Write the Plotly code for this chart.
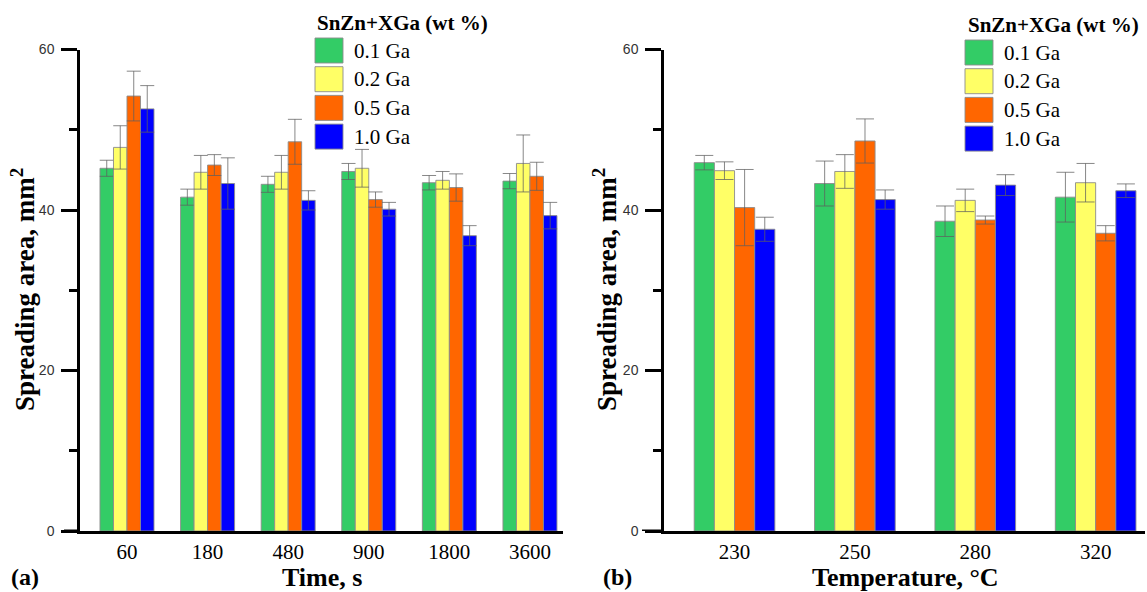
import plotly.graph_objects as go

# ---------------- data ----------------
series_names = ["0.1 Ga", "0.2 Ga", "0.5 Ga", "1.0 Ga"]
series_colors = ["#33CC66", "#FFFF66", "#FF6600", "#0000FF"]
legend_title = "SnZn+XGa (wt %)"

# (a) spreading area vs time
times = ["60", "180", "480", "900", "1800", "3600"]
time_ga01 = [45.2, 41.6, 43.2, 44.8, 43.4, 43.6]
time_ga02 = [47.8, 44.7, 44.7, 45.2, 43.7, 45.8]
time_ga05 = [54.2, 45.6, 48.5, 41.3, 42.8, 44.2]
time_ga10 = [52.6, 43.3, 41.2, 40.1, 36.8, 39.3]
time_err01 = [1.0, 1.0, 1.0, 1.0, 0.9, 0.95]
time_err02 = [2.7, 2.1, 2.1, 2.35, 1.1, 3.55]
time_err05 = [3.1, 1.3, 2.8, 0.95, 1.7, 1.75]
time_err10 = [2.9, 3.2, 1.2, 0.85, 1.25, 1.65]

# (b) spreading area vs temperature
temps = ["230", "250", "280", "320"]
temp_ga01 = [45.9, 43.3, 38.6, 41.6]
temp_ga02 = [44.9, 44.8, 41.2, 43.4]
temp_ga05 = [40.3, 48.6, 38.75, 37.1]
temp_ga10 = [37.6, 41.3, 43.1, 42.4]
temp_err01 = [0.9, 2.8, 1.9, 3.1]
temp_err02 = [1.1, 2.1, 1.4, 2.4]
temp_err05 = [4.75, 2.75, 0.5, 0.95]
temp_err10 = [1.5, 1.2, 1.3, 0.85]

y_ticks = [0, 20, 40, 60]

# ---------------- figure ----------------
W, H = 1147, 592
SERIF = "Liberation Serif"
SANS = "Liberation Sans"


def px(x):
    return x / W


def py(y):
    return 1 - y / H


fig = go.Figure()

time_vals = [time_ga01, time_ga02, time_ga05, time_ga10]
time_errs = [time_err01, time_err02, time_err05, time_err10]
temp_vals = [temp_ga01, temp_ga02, temp_ga05, temp_ga10]
temp_errs = [temp_err01, temp_err02, temp_err05, temp_err10]

ERR_COLOR = "rgba(95,95,95,0.75)"
OUTLINE = "rgba(140,140,140,0.9)"

for name, color, vals, errs in zip(series_names, series_colors, time_vals, time_errs):
    fig.add_trace(go.Bar(
        x=times, y=vals, name=name, showlegend=False,
        marker=dict(color=color, line=dict(color=OUTLINE, width=1)),
        error_y=dict(type="data", array=errs, visible=True, color=ERR_COLOR,
                     thickness=1, width=7),
        xaxis="x", yaxis="y",
    ))

for name, color, vals, errs in zip(series_names, series_colors, temp_vals, temp_errs):
    fig.add_trace(go.Bar(
        x=temps, y=vals, name=name, showlegend=False,
        marker=dict(color=color, line=dict(color=OUTLINE, width=1)),
        error_y=dict(type="data", array=errs, visible=True, color=ERR_COLOR,
                     thickness=1, width=9),
        xaxis="x2", yaxis="y2",
    ))

y_dom = [py(531), py(49.5)]

xaxis_common = dict(
    type="category", showline=True, linecolor="black", linewidth=3,
    ticks="", showgrid=False, zeroline=False, automargin=False,
    tickfont=dict(family=SERIF, size=21, color="black"),
    ticklabelstandoff=0, fixedrange=True,
)
yaxis_common = dict(
    range=[0, 60], tickvals=y_ticks, showline=True, linecolor="black",
    linewidth=2.5, ticks="outside", ticklen=16, tickwidth=2.5,
    tickcolor="black", showgrid=False, zeroline=False, automargin=False,
    tickfont=dict(family=SANS, size=14, color="#333333"),
    ticklabelstandoff=4,
    minor=dict(ticks="outside", ticklen=8, tickwidth=2.5, tickcolor="black",
               dtick=10, tick0=0, showgrid=False),
    fixedrange=True,
)

fig.update_layout(
    width=W, height=H,
    margin=dict(l=0, r=0, t=0, b=0),
    paper_bgcolor="white", plot_bgcolor="white",
    barmode="group", bargap=0.33, bargroupgap=0,
    font=dict(family=SERIF, color="black"),
    showlegend=False,
    xaxis=dict(domain=[px(80), px(563)], range=[-0.583, 5.41], anchor="y",
               **xaxis_common),
    yaxis=dict(domain=y_dom, anchor="x", **yaxis_common),
    xaxis2=dict(domain=[px(664), px(1145)], range=[-0.586, 3.41], anchor="y2",
                **xaxis_common),
    yaxis2=dict(domain=y_dom, anchor="x2", **yaxis_common),
)

# x-axis line extending left past the y axis
fig.add_shape(type="line", xref="x domain", yref="y", x0=-16 / 483, x1=0,
              y0=0, y1=0, line=dict(color="black", width=3))
fig.add_shape(type="line", xref="x2 domain", yref="y2", x0=-22 / 481, x1=0,
              y0=0, y1=0, line=dict(color="black", width=3))

# axis titles and panel labels
ann = []
ann.append(dict(text="<b>Time, s</b>", x=px(322), y=py(577), xref="paper",
                yref="paper", showarrow=False, xanchor="center", yanchor="middle",
                borderpad=0, font=dict(family=SERIF, size=26)))
ann.append(dict(text="<b>Temperature, °C</b>", x=px(905), y=py(577),
                xref="paper", yref="paper", showarrow=False, xanchor="center",
                yanchor="middle", borderpad=0, font=dict(family=SERIF, size=26)))
ann.append(dict(text="<b>(a)</b>", x=px(10), y=py(577), xref="paper",
                yref="paper", showarrow=False, xanchor="left", yanchor="middle",
                borderpad=0, font=dict(family=SERIF, size=24)))
ann.append(dict(text="<b>(b)</b>", x=px(602), y=py(577), xref="paper",
                yref="paper", showarrow=False, xanchor="left", yanchor="middle",
                borderpad=0, font=dict(family=SERIF, size=24)))
for xc in (23, 605):
    ann.append(dict(text="<b>Spreading area, mm<sup>2</sup></b>", x=px(xc),
                    y=py(290), xref="paper", yref="paper", showarrow=False,
                    xanchor="center", yanchor="middle", textangle=-90,
                    font=dict(family=SERIF, size=27)))

# manual legends (large swatches)
legend_pos = [
    dict(title_x=315, title_y=23, sw_x=315, sw_top=38, text_x=352),
    dict(title_x=966, title_y=25, sw_x=965, sw_top=40, text_x=1002),
]
PITCH = 28.7
for lp in legend_pos:
    ann.append(dict(text="<b>" + legend_title + "</b>", x=px(lp["title_x"]),
                    y=py(lp["title_y"]), xref="paper", yref="paper",
                    showarrow=False, xanchor="left", yanchor="middle",
                    font=dict(family=SERIF, size=21)))
    for i, (name, color) in enumerate(zip(series_names, series_colors)):
        top = lp["sw_top"] + PITCH * i
        fig.add_shape(type="rect", xref="paper", yref="paper",
                      x0=px(lp["sw_x"]), x1=px(lp["sw_x"] + 28),
                      y0=py(top + 25), y1=py(top),
                      fillcolor=color, line=dict(color=OUTLINE, width=1))
        ann.append(dict(text=name, x=px(lp["text_x"]), y=py(top + 12.5),
                        xref="paper", yref="paper", showarrow=False,
                        xanchor="left", yanchor="middle",
                        font=dict(family=SERIF, size=21)))

fig.update_layout(annotations=ann)

fig.write_html(
    "out.html",
    config={"displayModeBar": False},
    post_script="document.body.style.margin='0';document.body.style.overflow='hidden';",
)
